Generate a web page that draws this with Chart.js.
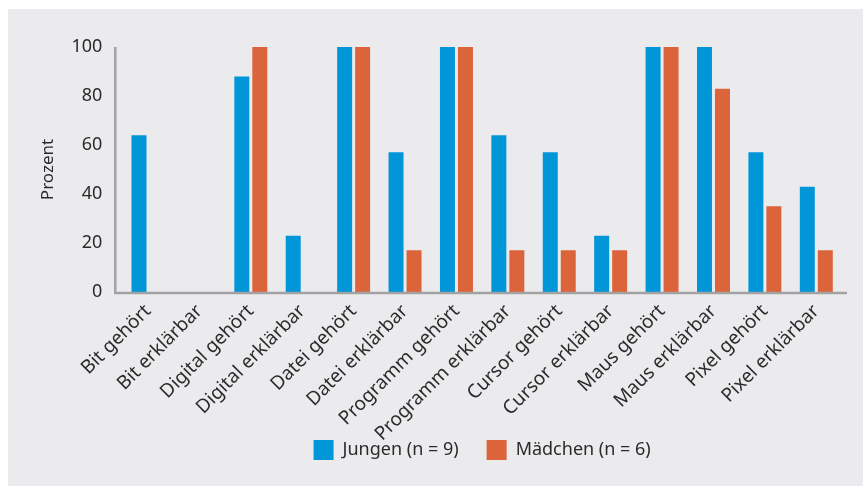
<!DOCTYPE html>
<html lang="de">
<head>
    <meta charset="UTF-8">
    <title>Begriffe gehört / erklärbar</title>
    <script src="https://cdn.jsdelivr.net/npm/chart.js"></script>
    <style>
        body, html {
            margin: 0;
            background: #fff;
        }
        #chart {
            display: block;
        }
    </style>
</head>
<body>
    <canvas id="chart" width="863" height="486"></canvas>

    <script>
        const categories = ['Bit gehört', 'Bit erklärbar', 'Digital gehört', 'Digital erklärbar',
            'Datei gehört', 'Datei erklärbar', 'Programm gehört', 'Programm erklärbar',
            'Cursor gehört', 'Cursor erklärbar', 'Maus gehört', 'Maus erklärbar',
            'Pixel gehört', 'Pixel erklärbar'];
        const jungen = [64, 0, 88, 23, 100, 57, 100, 64, 57, 23, 100, 100, 57, 43];
        const maedchen = [0, 0, 100, 0, 100, 17, 100, 17, 17, 17, 100, 83, 35, 17];
        const yTicks = [0, 20, 40, 60, 80, 100];

        const fontFamily = '"Noto Sans", "Open Sans", sans-serif';
        const textColor = '#2b2b2b';
        const axisColor = '#a2a2a4';

        // grey panel behind everything
        const panel = {
            id: 'panel',
            beforeDraw(chart) {
                const ctx = chart.ctx;
                ctx.save();
                ctx.fillStyle = '#ebebed';
                ctx.fillRect(8, 9, chart.width - 8, chart.height - 9);
                ctx.restore();
            }
        };

        // axis lines sit a little outside the category band
        const axes = {
            id: 'axes',
            afterDatasetsDraw(chart) {
                const a = chart.chartArea;
                const ctx = chart.ctx;
                ctx.save();
                ctx.strokeStyle = axisColor;
                ctx.lineWidth = 2.5;
                ctx.beginPath();
                ctx.moveTo(a.left - 7, a.top);
                ctx.lineTo(a.left - 7, a.bottom + 1);
                ctx.lineTo(a.right + 5, a.bottom + 1);
                ctx.stroke();
                ctx.restore();
            }
        };

        // legend centred on the plot, x labels allowed to run down into the legend band
        const layoutTweak = {
            id: 'layoutTweak',
            afterLayout(chart) {
                if (chart.legend) {
                    chart.legend.left = chart.chartArea.left;
                    chart.legend.right = chart.chartArea.right;
                }
                chart.scales.x.bottom = chart.height;
            }
        };

        new Chart(document.getElementById('chart'), {
            type: 'bar',
            data: {
                labels: categories,
                datasets: [{
                    label: 'Jungen (n = 9)',
                    data: jungen,
                    backgroundColor: '#0096d8',
                    categoryPercentage: 0.70,
                    barPercentage: 0.833
                }, {
                    label: 'Mädchen (n = 6)',
                    data: maedchen,
                    backgroundColor: '#dc643b',
                    categoryPercentage: 0.70,
                    barPercentage: 0.833
                }]
            },
            options: {
                responsive: false,
                animation: false,
                layout: {
                    padding: { left: 38, right: 21, top: 47, bottom: 16 }
                },
                plugins: {
                    tooltip: { enabled: false },
                    legend: {
                        position: 'bottom',
                        labels: {
                            boxWidth: 20,
                            boxHeight: 20,
                            padding: 28,
                            color: textColor,
                            font: { family: fontFamily, size: 18 }
                        }
                    }
                },
                scales: {
                    x: {
                        grid: { display: false, drawTicks: false },
                        border: { display: false },
                        ticks: {
                            color: textColor,
                            font: { family: fontFamily, size: 19 },
                            maxRotation: 45,
                            minRotation: 45,
                            padding: 8,
                            autoSkip: false
                        },
                        afterFit(scale) {
                            // rotated labels may hang past the plot on the left, like the original
                            scale.paddingLeft = 0;
                            scale.paddingRight = 0;
                            scale.height = 120;
                        }
                    },
                    y: {
                        min: 0,
                        max: 100,
                        afterBuildTicks(scale) {
                            scale.ticks = yTicks.map(v => ({ value: v }));
                        },
                        grid: { display: false, drawTicks: false },
                        border: { display: false },
                        ticks: {
                            color: textColor,
                            font: { family: fontFamily, size: 18 },
                            padding: 20
                        },
                        title: {
                            display: true,
                            text: 'Prozent',
                            color: textColor,
                            font: { family: fontFamily, size: 17 },
                            padding: { top: 0, bottom: -7 }
                        }
                    }
                }
            },
            plugins: [panel, axes, layoutTweak]
        });
    </script>
</body>
</html>
